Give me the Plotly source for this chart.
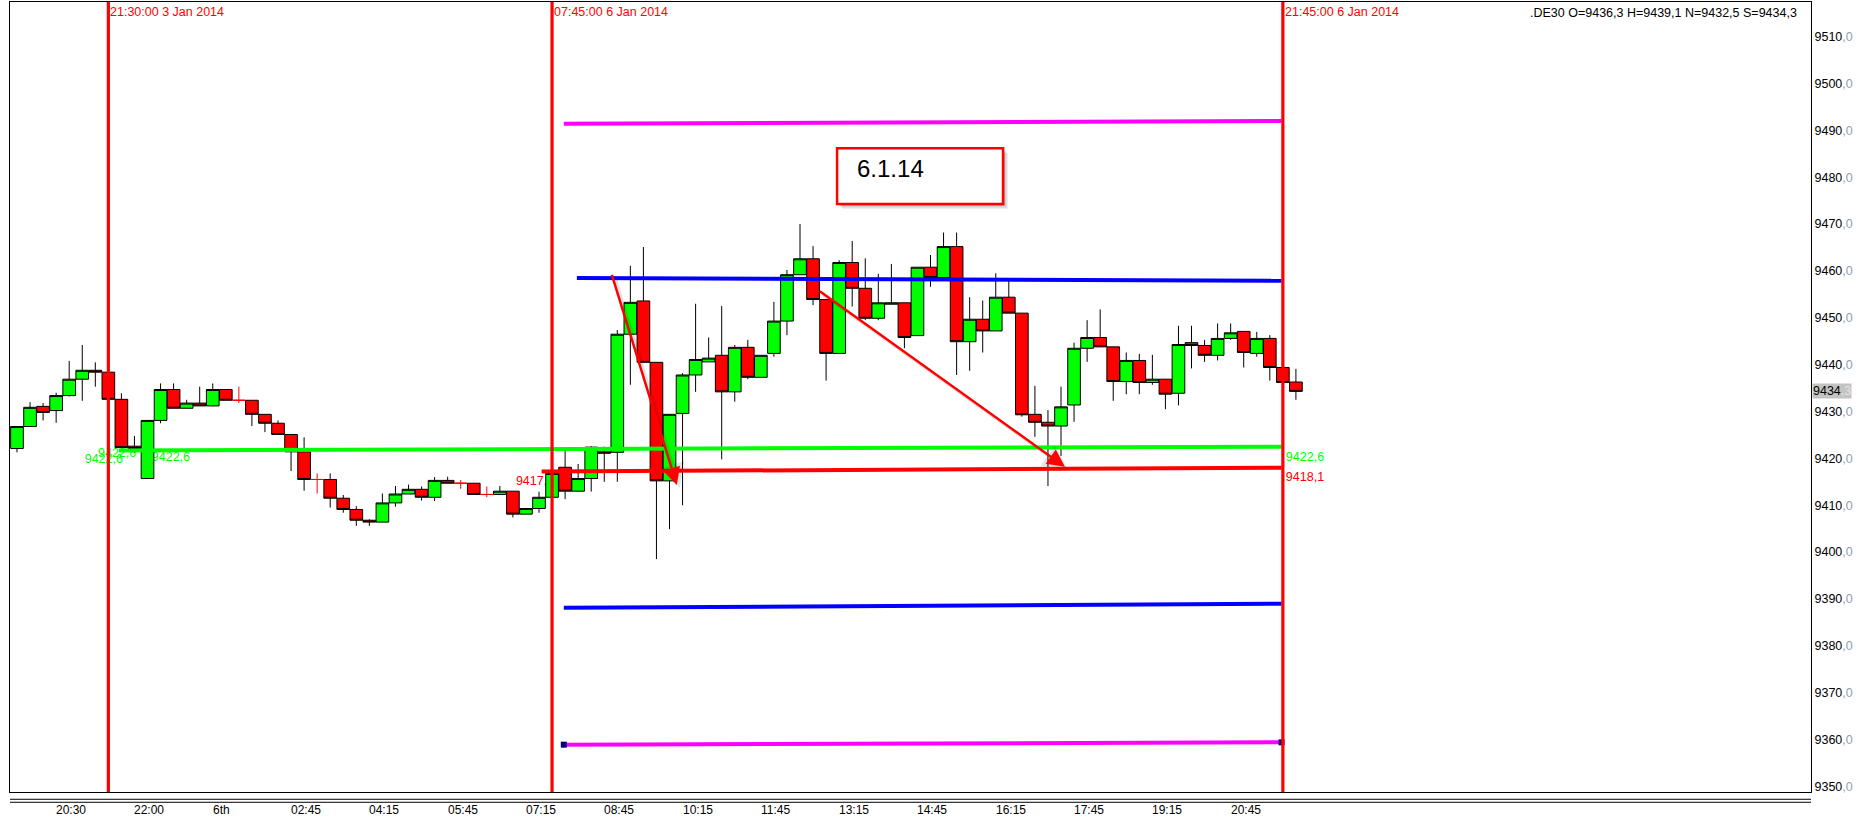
import plotly.graph_objects as go

# ---------------- data (15-minute candles, .DE30) ----------------
opens = [9422.1, 9426.8, 9431.1, 9430.2, 9433.4, 9436.9, 9438.8, 9438.4, 9432.6, 9422.6,
         9415.7, 9428.1, 9434.7, 9430.7, 9431.8, 9431.2, 9434.7, 9432.4, 9432.4, 9429.4,
         9427.5, 9425.1, 9421.4, 9415.5, 9415.5, 9411.5, 9409.1, 9406.8, 9406.4, 9410.5,
         9412.4, 9413.4, 9411.7, 9415.3, 9414.7, 9414.7, 9412.3, 9412.3, 9413.0, 9408.1,
         9409.3, 9411.7, 9418.1, 9413.0, 9415.7, 9421.4, 9421.3, 9446.5, 9453.6, 9440.5,
         9415.2, 9429.6, 9437.8, 9440.6, 9442.0, 9434.2, 9443.7, 9437.3, 9442.4, 9449.3,
         9459.2, 9462.6, 9453.9, 9442.4, 9461.8, 9456.3, 9449.9, 9452.9, 9453.2, 9446.2,
         9460.8, 9458.6, 9465.2, 9444.9, 9449.7, 9447.2, 9454.4, 9451.0, 9429.4, 9427.7,
         9426.9, 9431.4, 9443.5, 9445.8, 9443.8, 9436.4, 9440.9, 9436.2, 9436.9, 9433.9,
         9444.7, 9444.1, 9442.0, 9445.6, 9447.1, 9442.4, 9445.6, 9439.4, 9436.3]
highs = [9426.8, 9432.0, 9431.8, 9434.0, 9440.8, 9444.2, 9440.5, 9438.4, 9433.9, 9424.8,
         9428.1, 9436.0, 9436.0, 9432.5, 9435.3, 9436.0, 9434.7, 9435.3, 9432.4, 9429.4,
         9428.1, 9425.1, 9424.5, 9416.8, 9416.8, 9412.2, 9409.8, 9407.0, 9412.5, 9414.1,
         9414.4, 9414.0, 9416.0, 9416.1, 9415.4, 9414.7, 9414.0, 9414.1, 9413.0, 9409.3,
         9412.9, 9417.5, 9422.0, 9418.8, 9422.6, 9422.5, 9447.4, 9461.1, 9465.1, 9440.5,
         9429.4, 9438.2, 9453.0, 9445.8, 9452.5, 9444.2, 9445.3, 9442.0, 9453.4, 9460.2,
         9470.0, 9465.3, 9453.9, 9462.3, 9466.4, 9462.7, 9459.4, 9461.5, 9453.2, 9460.8,
         9463.4, 9468.2, 9468.2, 9454.4, 9453.7, 9459.5, 9458.1, 9451.0, 9435.5, 9430.3,
         9435.3, 9444.7, 9449.5, 9451.8, 9443.8, 9442.6, 9442.3, 9442.1, 9436.9, 9448.3,
         9448.3, 9445.3, 9448.8, 9448.8, 9447.1, 9447.0, 9446.3, 9439.4, 9439.1]
lows = [9421.3, 9426.8, 9428.1, 9427.6, 9433.2, 9432.3, 9435.3, 9432.6, 9422.3, 9421.2,
        9415.7, 9427.5, 9430.7, 9430.7, 9431.2, 9431.1, 9432.4, 9431.8, 9426.9, 9425.6,
        9425.1, 9417.3, 9413.1, 9412.5, 9409.5, 9408.4, 9405.6, 9405.6, 9406.4, 9409.7,
        9412.4, 9411.0, 9410.9, 9414.7, 9413.5, 9412.3, 9411.7, 9412.3, 9407.4, 9408.1,
        9408.4, 9411.7, 9411.3, 9412.9, 9412.9, 9415.0, 9415.0, 9435.7, 9440.5, 9398.5,
        9404.9, 9410.0, 9434.2, 9440.6, 9419.8, 9432.1, 9436.9, 9437.3, 9441.7, 9446.3,
        9459.2, 9452.7, 9436.6, 9442.4, 9452.4, 9449.5, 9449.5, 9452.9, 9443.5, 9446.2,
        9456.6, 9458.6, 9437.8, 9438.7, 9442.6, 9447.2, 9451.0, 9428.9, 9424.6, 9414.1,
        9420.5, 9427.8, 9440.6, 9443.8, 9432.3, 9433.7, 9433.7, 9435.7, 9430.5, 9431.3,
        9439.2, 9440.6, 9440.9, 9445.3, 9439.4, 9441.7, 9436.6, 9436.2, 9432.5]
closes = [9426.8, 9430.9, 9429.8, 9433.4, 9436.9, 9438.8, 9438.4, 9432.6, 9422.3, 9422.1,
          9428.1, 9434.7, 9430.7, 9431.8, 9431.2, 9434.7, 9432.4, 9432.4, 9429.4, 9427.5,
          9425.1, 9421.4, 9415.5, 9415.5, 9411.5, 9409.1, 9406.8, 9406.4, 9410.5, 9412.4,
          9413.4, 9411.7, 9415.3, 9414.7, 9414.7, 9412.3, 9412.3, 9413.0, 9408.1, 9409.3,
          9411.7, 9416.8, 9413.0, 9415.7, 9422.4, 9421.1, 9446.5, 9453.3, 9440.5, 9415.2,
          9429.4, 9437.8, 9441.1, 9441.4, 9434.2, 9443.7, 9437.3, 9442.0, 9449.3, 9459.2,
          9462.6, 9453.9, 9442.4, 9461.8, 9456.3, 9449.9, 9453.2, 9453.2, 9445.8, 9460.8,
          9458.6, 9465.2, 9444.9, 9449.7, 9447.2, 9454.4, 9451.0, 9429.3, 9427.7, 9426.9,
          9431.0, 9443.5, 9445.8, 9443.8, 9436.4, 9440.9, 9436.2, 9436.9, 9433.7, 9444.3,
          9444.1, 9442.0, 9445.6, 9446.8, 9442.6, 9445.6, 9439.4, 9436.2, 9434.3]
bar_index = list(range(len(opens)))

# time-axis labels (bar index -> label)
tick_index = [3, 9, 15, 21, 27, 33, 39, 45, 51, 57, 63, 69, 75, 81, 87, 93]
tick_text = ["20:30", "22:00", "6th", "02:45", "04:15", "05:45", "07:15", "08:45",
             "10:15", "11:45", "13:15", "14:45", "16:15", "17:45", "19:15", "20:45"]

# price axis
price_ticks = list(range(9350, 9511, 10))
price_tick_text = [f"{v}<span style='color:#8e9db3'>,0</span>" for v in price_ticks]
last_price = 9434.3

# session separators
session_index = [7, 41, 97]
session_text = ["21:30:00 3 Jan 2014", "07:45:00 6 Jan 2014", "21:45:00 6 Jan 2014"]

# pivot / level lines
level_color = ["#FF00FF", "#0000FF", "#00FF00", "#FF0000", "#0000FF", "#FF00FF"]
level_x0 = [41.9, 42.9, 7.8, 40.2, 41.9, 41.9]
level_x1 = [96.9, 96.9, 96.9, 96.9, 96.9, 96.9]
level_y0 = [9491.4, 9458.5, 9421.7, 9417.2, 9388.1, 9358.9]
level_y1 = [9492.0, 9457.9, 9422.5, 9418.0, 9389.0, 9359.4]
level_end_markers = [False, False, False, False, False, True]

# level value labels (text, colour, left bar position, price)
label_text = ["9422,6", "9422,6", "9422,6", "9417,4", "9422,6", "9418,1"]
label_color = ["#00FF00", "#00FF00", "#00FF00", "#FF0000", "#00FF00", "#FF0000"]
label_x = [4.96, 5.98, 10.1, 38.0, 97.0, 97.0]
label_y = [9420.15, 9421.43, 9420.72, 9415.6, 9420.72, 9416.3]

# drawn arrows (tail -> head)
arrow_tail_x = [45.55, 61.4]
arrow_tail_y = [9459.5, 9455.9]
arrow_head_x = [50.56, 80.3]
arrow_head_y = [9414.3, 9418.2]

# text box
box_text = "6.1.14"
box_x0, box_x1 = 62.84, 75.56
box_y0, box_y1 = 9474.3, 9486.2

title_text = ".DE30 O=9436,3 H=9439,1 N=9432,5 S=9434,3"

FONT = "Arial, Liberation Sans, sans-serif"

# ---------------- figure ----------------
fig = go.Figure()

main = [i for i in bar_index if opens[i] != closes[i]]
doji = [i for i in bar_index if opens[i] == closes[i]]

fig.add_trace(go.Candlestick(
    x=[bar_index[i] for i in main],
    open=[opens[i] for i in main], high=[highs[i] for i in main],
    low=[lows[i] for i in main], close=[closes[i] for i in main],
    increasing=dict(fillcolor="#00FF00", line=dict(color="black", width=1)),
    decreasing=dict(fillcolor="#FF0000", line=dict(color="black", width=1)),
    whiskerwidth=0, showlegend=False, hoverinfo="skip"))

fig.add_trace(go.Candlestick(
    x=[bar_index[i] for i in doji],
    open=[opens[i] for i in doji], high=[highs[i] for i in doji],
    low=[lows[i] for i in doji], close=[closes[i] for i in doji],
    increasing=dict(fillcolor="#FF0000", line=dict(color="#FF0000", width=1)),
    decreasing=dict(fillcolor="#FF0000", line=dict(color="#FF0000", width=1)),
    whiskerwidth=0, showlegend=False, hoverinfo="skip"))

for c, x0, x1, y0, y1, mk in zip(level_color, level_x0, level_x1, level_y0, level_y1, level_end_markers):
    fig.add_trace(go.Scatter(
        x=[x0, x1], y=[y0, y1], mode="lines+markers" if mk else "lines",
        line=dict(color=c, width=4),
        marker=dict(symbol="square", size=6, color="#000080"),
        showlegend=False, hoverinfo="skip"))

shapes = []
# level labels (below candles)
for t, c, x, y in zip(label_text, label_color, label_x, label_y):
    shapes.append(dict(type="rect", xref="x", yref="y", x0=x, x1=x + 3, y0=y - 0.5, y1=y + 0.5,
                       line=dict(width=0), fillcolor="rgba(0,0,0,0)", layer="below",
                       label=dict(text=t, textposition="middle left", padding=0,
                                  font=dict(family=FONT, size=12.5, color=c))))
# text box with shadow
for off, a in [(5, 0.07), (3.5, 0.12), (2, 0.15)]:
    shapes.append(dict(type="rect", xref="x", yref="y",
                       x0=box_x0 + off / 13.05, x1=box_x1 + off / 13.05,
                       y0=box_y0 - off / 4.686, y1=box_y1 - off / 4.686,
                       line=dict(width=0), fillcolor=f"rgba(0,0,0,{a})", layer="above"))
shapes.append(dict(type="rect", xref="x", yref="y", x0=box_x0, x1=box_x1, y0=box_y0, y1=box_y1,
                   line=dict(color="#FF0000", width=2.5), fillcolor="white", layer="above"))
# session separators
for xi in session_index:
    shapes.append(dict(type="line", xref="x", yref="paper", x0=xi, x1=xi, y0=0, y1=1,
                       line=dict(color="#FF0000", width=3.2), layer="above"))
# double line under the chart
for yy in [-0.0092, -0.0130]:
    shapes.append(dict(type="line", xref="paper", yref="paper", x0=0, x1=1, y0=yy, y1=yy,
                       line=dict(color="black", width=1)))

annotations = []
for xi, t in zip(tick_index, tick_text):
    annotations.append(dict(x=xi, y=-0.0228, xref="x", yref="paper", text=t, showarrow=False,
                            xanchor="left", yanchor="middle", xshift=-2,
                            font=dict(family=FONT, size=12, color="black")))
for xi, t in zip(session_index, session_text):
    annotations.append(dict(x=xi, y=1, xref="x", yref="paper", text=t, showarrow=False,
                            xanchor="left", yanchor="top", xshift=0, yshift=-1,
                            font=dict(family=FONT, size=12.5, color="#FF0000")))
annotations.append(dict(x=0.9933, y=1, xref="paper", yref="paper", text=title_text, showarrow=False,
                        xanchor="right", yanchor="top", yshift=-2,
                        font=dict(family=FONT, size=12.5, color="black")))
annotations.append(dict(x=1, y=last_price, xref="paper", yref="y",
                        text=f"{int(last_price)}<span style='color:#e4e4e4'>,{str(last_price).split('.')[1]}</span>",
                        showarrow=False, xanchor="left", yanchor="middle", xshift=1,
                        bgcolor="#c3c3c3", borderpad=0,
                        font=dict(family=FONT, size=12.5, color="black")))
annotations.append(dict(x=box_x0 + 18 / 13.05, y=9481.9, xref="x", yref="y", text=box_text,
                        showarrow=False, xanchor="left", yanchor="middle",
                        font=dict(family=FONT, size=24, color="black")))
for tx, ty, hx, hy in zip(arrow_tail_x, arrow_tail_y, arrow_head_x, arrow_head_y):
    for shift, col, w in [(3, "rgba(0,0,0,0.10)", 3.5), (0, "#FF0000", 2.5)]:
        annotations.append(dict(x=hx, y=hy, ax=tx, ay=ty, xref="x", yref="y", axref="x", ayref="y",
                                text="", showarrow=True, arrowhead=2, arrowsize=1.4,
                                arrowwidth=w, arrowcolor=col, standoff=0,
                                xshift=shift, yshift=-shift))

fig.update_layout(
    width=1857, height=820,
    margin=dict(l=10, r=46, t=2, b=28, autoexpand=False),
    paper_bgcolor="white", plot_bgcolor="white",
    boxgap=0.03, boxgroupgap=0,
    shapes=shapes, annotations=annotations,
    font=dict(family=FONT, size=12, color="black"),
    xaxis=dict(range=[-0.536, 137.47], showgrid=False, zeroline=False, showticklabels=False,
               ticks="", showline=True, mirror=True, linecolor="black", linewidth=1,
               rangeslider=dict(visible=False), fixedrange=True),
    yaxis=dict(range=[9348.8, 9517.4], side="right", showgrid=False, zeroline=False,
               tickmode="array", tickvals=price_ticks, ticktext=price_tick_text,
               ticks="", showline=True, mirror=True, linecolor="black", linewidth=1,
               tickfont=dict(family=FONT, size=12.5, color="black"), automargin=False),
)

fig.write_html("out.html", config={"displayModeBar": False},
               post_script="document.body.style.margin='0';document.body.style.overflow='hidden';")
